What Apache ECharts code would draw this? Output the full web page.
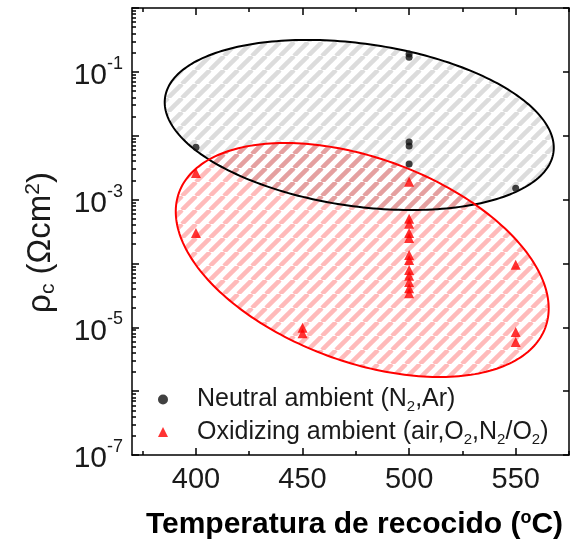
<!DOCTYPE html>
<html><head><meta charset="utf-8">
<script src="https://cdn.jsdelivr.net/npm/echarts@6/dist/echarts.min.js"></script>
<style>html,body{margin:0;padding:0;background:#fff}#c{width:574px;height:546px}</style>
</head><body><div id="c"></div>
<script>
// ---- data ----
const neutralTemp = [400, 500, 500, 500, 500, 500, 550];
const neutralRho  = [6.6e-3, 0.19, 0.17, 8.0e-3, 6.9e-3, 3.6e-3, 1.5e-3];
const oxidTemp = [400, 400, 450, 450, 500, 500, 500, 500, 500, 500, 500, 500, 500, 500, 500, 500, 550, 550, 550];
const oxidRho  = [2.6e-3, 3.0e-4, 9.8e-6, 8.1e-6, 1.9e-3, 5.0e-4, 4.2e-4, 3.0e-4, 2.5e-4, 1.36e-4, 1.13e-4, 7.9e-5, 6.4e-5, 5.1e-5, 4.1e-5, 3.4e-5, 9.5e-5, 8.4e-6, 5.9e-6];
// ellipse: [temp, rho] of centre, end of major semi-axis, end of minor semi-axis
const neutralEllipse = [476.6, 0.01472, 567.7, 5.48e-3, 471.3, 8.07e-4];
const oxidEllipse    = [478.0, 1.132e-4, 563.9, 9.89e-6, 461.5, 3.62e-6];
const xTicks = [400, 450, 500, 550];
const xMinorTicks = [375, 425, 475, 525, 575];
const yDecades = [1e-7, 1e-6, 1e-5, 1e-4, 1e-3, 1e-2, 1e-1, 1];
const yLabelValues = [1e-7, 1e-5, 1e-3, 1e-1];
const yMinorTicks = [];
yDecades.slice(0, -1).forEach(d => { for (let k = 2; k <= 9; k++) yMinorTicks.push(+(k * d).toPrecision(3)); });
const neutralName = 'Neutral ambient (N2,Ar)';
const oxidName = 'Oxidizing ambient (air,O2,N2/O2)';

const FONT = '"Liberation Sans", Arial, sans-serif';
const TXT = '#1a1a1a';

function stripes(color) {
  const s = 14, cv = document.createElement('canvas');
  cv.width = s; cv.height = s;
  const g = cv.getContext('2d');
  g.strokeStyle = color; g.lineWidth = 4.5;
  for (const o of [-s, 0, s]) { g.beginPath(); g.moveTo(o, s); g.lineTo(o + s, 0); g.stroke(); }
  return { image: cv, repeat: 'repeat' };
}
const grayFill = stripes('#dcdcdc');
const redFill = stripes('rgba(255,0,0,0.27)');

function ellipseRender(fill, stroke) {
  return function (params, api) {
    const c = api.coord([api.value(0), api.value(1)]);
    const m = api.coord([api.value(2), api.value(3)]);
    const n = api.coord([api.value(4), api.value(5)]);
    const ux = m[0] - c[0], uy = m[1] - c[1], vx = n[0] - c[0], vy = n[1] - c[1];
    const pts = [];
    for (let i = 0; i < 240; i++) {
      const t = i / 240 * 2 * Math.PI;
      pts.push([c[0] + ux * Math.cos(t) + vx * Math.sin(t), c[1] + uy * Math.cos(t) + vy * Math.sin(t)]);
    }
    return { type: 'polygon', shape: { points: pts },
      style: fill ? { fill: fill, stroke: null } : { fill: null, stroke: stroke, lineWidth: 2 } };
  };
}
function ellipseSeries(data, fill, stroke, z) {
  return { type: 'custom', data: [data], renderItem: ellipseRender(fill, stroke), z: z, silent: true,
    encode: { x: [0, 2, 4], y: [1, 3, 5] }, clip: true };
}

const chart = echarts.init(document.getElementById('c'), null, { renderer: 'canvas' });
const xBase = { type: 'value', min: 370, max: 575, splitLine: { show: false }, axisLabel: { show: false } };
const yBase = { type: 'log', logBase: 10, min: 1e-7, max: 1, splitLine: { show: false }, axisLabel: { show: false } };
const black = { color: '#000', width: 1.5 };

chart.setOption({
  animation: false,
  textStyle: { fontFamily: FONT },
  grid: { left: 132, top: 8, width: 437, height: 447, containLabel: false },
  xAxis: [
    Object.assign({}, xBase, {
      position: 'bottom', axisLine: { show: true, onZero: false, lineStyle: black },
      axisTick: { inside: true, length: 7, customValues: xTicks, lineStyle: black },
      axisLabel: { show: true, customValues: xTicks, fontSize: 29, margin: 10, color: TXT, fontFamily: FONT },
      name: '{t|Temperatura de recocido (}{sup|o}{t|C)}', nameLocation: 'middle', nameGap: 54,
      nameTextStyle: { padding: [0, 0, 0, 8], rich: {
        t: { fontSize: 30, fontWeight: 'bold', color: '#000', fontFamily: FONT, lineHeight: 32 },
        sup: { fontSize: 18, fontWeight: 'bold', color: '#000', fontFamily: FONT, verticalAlign: 'top', lineHeight: 32 } } }
    }),
    Object.assign({}, xBase, { position: 'bottom', axisLine: { show: false },
      axisTick: { inside: true, length: 4, customValues: xMinorTicks, lineStyle: black } }),
    Object.assign({}, xBase, { position: 'top', axisLine: { show: true, onZero: false, lineStyle: black },
      axisTick: { inside: true, length: 7, customValues: xTicks, lineStyle: black } }),
    Object.assign({}, xBase, { position: 'top', axisLine: { show: false },
      axisTick: { inside: true, length: 4, customValues: xMinorTicks, lineStyle: black } })
  ],
  yAxis: [
    Object.assign({}, yBase, {
      position: 'left', axisLine: { show: true, onZero: false, lineStyle: black },
      axisTick: { inside: true, length: 7, customValues: yDecades, lineStyle: black },
      axisLabel: { show: true, customValues: yLabelValues, margin: 9,
        formatter: v => '{b|10}{s|' + Math.round(Math.log10(v)) + '}',
        rich: { b: { fontSize: 30, color: TXT, fontFamily: FONT, lineHeight: 34, padding: [8, 0, 0, 0] },
                s: { fontSize: 18, color: TXT, fontFamily: FONT, verticalAlign: 'top', lineHeight: 34 } } },
      name: '{t|\u03c1}{sub|c}{t| (\u03a9cm}{sup|2}{t|)}', nameLocation: 'middle', nameRotate: 90, nameGap: 73,
      nameTextStyle: { padding: [0, 22, 0, 0], rich: {
        t: { fontSize: 33, color: TXT, fontFamily: FONT, lineHeight: 36 },
        sub: { fontSize: 21, color: TXT, fontFamily: FONT, verticalAlign: 'bottom', lineHeight: 36 },
        sup: { fontSize: 21, color: TXT, fontFamily: FONT, verticalAlign: 'top', lineHeight: 36 } } }
    }),
    Object.assign({}, yBase, { position: 'left', axisLine: { show: false },
      axisTick: { inside: true, length: 4, customValues: yMinorTicks, lineStyle: black } }),
    Object.assign({}, yBase, { position: 'right', axisLine: { show: true, onZero: false, lineStyle: black },
      axisTick: { inside: true, length: 6, customValues: yDecades, lineStyle: black } })
  ],
  legend: {
    orient: 'vertical', left: 153, top: 382, itemGap: 5, itemWidth: 10, itemHeight: 10,
    data: [{ name: neutralName, icon: 'circle' }, { name: oxidName, icon: 'triangle' }],
    formatter: name => name === neutralName
      ? '{g|}{t|Neutral ambient (N}{sub|2}{t|,Ar)}'
      : '{g|}{t|Oxidizing ambient (air,O}{sub|2}{t|,N}{sub|2}{t|/O}{sub|2}{t|)}',
    textStyle: { rich: {
      g: { width: 24 },
      t: { fontSize: 25, color: TXT, fontFamily: FONT, lineHeight: 30 },
      sub: { fontSize: 15, color: TXT, fontFamily: FONT, verticalAlign: 'bottom', lineHeight: 30 } } }
  },
  series: [
    ellipseSeries(neutralEllipse, grayFill, null, 1),
    ellipseSeries(oxidEllipse, redFill, null, 2),
    ellipseSeries(neutralEllipse, null, '#000', 3),
    ellipseSeries(oxidEllipse, null, '#ff0000', 3),
    { type: 'scatter', name: neutralName, symbol: 'circle', symbolSize: 7, z: 5,
      itemStyle: { color: '#111' }, data: neutralTemp.map((t, i) => [t, neutralRho[i]]) },
    { type: 'scatter', name: oxidName, symbol: 'triangle', symbolSize: 10, z: 5,
      itemStyle: { color: '#ff0000' }, data: oxidTemp.map((t, i) => [t, oxidRho[i]]) }
  ]
});
</script></body></html>
